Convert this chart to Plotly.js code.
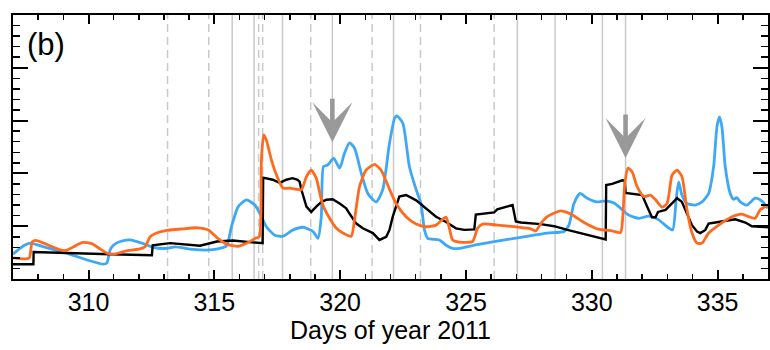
<!DOCTYPE html>
<html>
<head>
<meta charset="utf-8">
<script src="https://cdn.plot.ly/plotly-3.0.1.min.js"></script>
<style>
  html, body { margin: 0; padding: 0; background: #fff; }
  #chart { width: 770px; height: 350px; }
</style>
</head>
<body>
<div id="chart"></div>
<script>
// ---- data (x = day of year 2011, y = arbitrary units) ----
const blackDay = [307.0, 307.81, 307.82, 308.88, 310.86, 312.52, 312.55, 313.24, 313.63, 314.43, 315.10, 315.74, 316.61, 316.92, 316.94, 317.32, 317.60, 317.86, 318.11, 318.31, 318.39, 318.46, 318.66, 318.85, 319.05, 319.25, 319.45, 319.70, 319.98, 320.24, 320.37, 320.64, 320.90, 321.30, 321.56, 321.83, 321.96, 322.09, 322.35, 322.62, 323.02, 323.41, 323.81, 324.21, 324.60, 324.93, 325.33, 325.39, 326.12, 326.24, 326.85, 326.98, 327.18, 327.97, 328.50, 329.03, 329.82, 330.35, 330.55, 330.57, 330.81, 331.21, 331.31, 331.34, 331.74, 332.00, 332.20, 332.33, 332.39, 332.53, 332.63, 332.93, 333.19, 333.39, 333.58, 333.78, 333.98, 334.18, 334.31, 334.51, 334.64, 334.91, 335.30, 335.70, 336.10, 336.36, 337.0];
const blackVal = [0.28, 0.28, 0.51, 0.50, 0.47, 0.45, 0.64, 0.68, 0.66, 0.63, 0.71, 0.73, 0.69, 0.68, 1.92, 1.88, 1.82, 1.88, 1.91, 1.88, 1.84, 1.69, 1.37, 1.27, 1.37, 1.46, 1.50, 1.51, 1.43, 1.34, 1.24, 1.05, 0.96, 0.87, 0.74, 0.80, 0.93, 1.18, 1.56, 1.59, 1.49, 1.34, 1.18, 1.08, 0.96, 0.93, 0.94, 1.22, 1.26, 1.32, 1.40, 1.09, 1.07, 1.04, 1.00, 0.93, 0.83, 0.77, 0.75, 1.78, 1.80, 1.87, 1.86, 1.63, 1.61, 1.59, 1.37, 1.25, 1.17, 1.17, 1.27, 1.31, 1.44, 1.53, 1.46, 1.25, 1.02, 0.90, 0.87, 0.93, 1.05, 1.07, 1.10, 1.13, 1.07, 1.00, 0.98];

const orangeDay = [307.0, 307.49, 307.65, 307.76, 307.89, 308.22, 308.61, 308.88, 309.08, 309.41, 309.74, 310.13, 310.46, 310.73, 310.99, 311.26, 311.59, 312.05, 312.25, 312.45, 312.71, 313.11, 313.75, 314.31, 314.76, 315.09, 315.49, 315.95, 316.34, 316.67, 316.79, 316.87, 316.96, 317.07, 317.27, 317.47, 317.73, 317.99, 318.26, 318.46, 318.66, 318.85, 319.05, 319.18, 319.31, 319.58, 319.85, 320.11, 320.44, 320.57, 320.77, 321.03, 321.36, 321.63, 321.89, 322.22, 322.62, 323.02, 323.41, 323.81, 324.07, 324.21, 324.34, 324.47, 324.73, 325.26, 325.46, 325.66, 326.25, 326.91, 327.57, 327.77, 327.97, 328.23, 328.76, 329.16, 329.69, 330.21, 330.81, 331.14, 331.23, 331.31, 331.44, 331.60, 331.80, 332.07, 332.33, 332.53, 332.79, 332.99, 333.19, 333.39, 333.58, 333.78, 333.98, 334.18, 334.38, 334.64, 335.04, 335.57, 335.96, 336.23, 336.49, 336.69, 337.0];
const orangeVal = [0.40, 0.38, 0.40, 0.70, 0.73, 0.68, 0.60, 0.55, 0.54, 0.61, 0.69, 0.67, 0.57, 0.49, 0.47, 0.50, 0.54, 0.57, 0.61, 0.80, 0.87, 0.92, 0.95, 0.97, 0.93, 0.79, 0.66, 0.62, 0.69, 0.78, 0.80, 2.25, 2.73, 2.63, 2.25, 1.97, 1.72, 1.72, 1.70, 1.69, 1.94, 2.06, 1.91, 1.65, 1.40, 1.15, 0.96, 0.87, 0.81, 1.12, 1.75, 2.06, 2.17, 2.06, 1.78, 1.43, 1.18, 1.04, 0.99, 1.02, 1.13, 1.17, 0.96, 0.74, 0.70, 0.71, 0.96, 1.04, 1.02, 0.99, 0.95, 0.91, 1.05, 1.18, 1.29, 1.23, 1.07, 0.95, 0.91, 0.88, 1.18, 1.81, 2.10, 2.03, 1.75, 1.56, 1.59, 1.50, 1.36, 1.43, 1.97, 2.06, 1.94, 1.31, 0.87, 0.68, 0.68, 0.87, 1.02, 1.18, 1.23, 1.18, 1.15, 1.31, 1.40];

const blueDay = [307.0, 307.42, 307.69, 308.22, 309.14, 309.94, 310.59, 310.73, 310.86, 310.99, 311.26, 311.65, 312.17, 312.56, 313.12, 313.44, 314.15, 314.82, 315.22, 315.49, 315.68, 315.95, 316.28, 316.61, 316.81, 317.07, 317.40, 317.73, 318.13, 318.52, 318.92, 319.12, 319.25, 319.34, 319.51, 319.74, 319.98, 320.17, 320.37, 320.57, 320.84, 321.10, 321.43, 321.69, 321.96, 322.16, 322.25, 322.49, 322.75, 323.02, 323.21, 323.35, 323.48, 323.94, 324.21, 324.47, 324.73, 325.33, 326.12, 327.18, 328.23, 328.89, 329.09, 329.29, 329.53, 329.82, 330.21, 330.55, 330.88, 331.07, 331.47, 331.87, 332.26, 332.66, 332.99, 333.21, 333.35, 333.45, 333.58, 333.78, 334.11, 334.38, 334.64, 334.84, 334.97, 335.07, 335.17, 335.30, 335.50, 335.63, 335.76, 335.90, 336.16, 336.49, 336.75, 337.0];
const blueVal = [0.47, 0.63, 0.68, 0.61, 0.49, 0.36, 0.28, 0.30, 0.55, 0.64, 0.71, 0.74, 0.67, 0.60, 0.58, 0.61, 0.56, 0.55, 0.58, 0.63, 0.99, 1.37, 1.50, 1.40, 1.24, 0.99, 0.83, 0.81, 0.93, 0.98, 0.90, 0.77, 1.18, 2.13, 2.16, 2.29, 2.10, 2.38, 2.58, 2.48, 2.00, 1.62, 1.46, 1.69, 2.57, 3.04, 3.09, 2.95, 2.13, 1.69, 1.43, 0.93, 0.77, 0.74, 0.64, 0.58, 0.58, 0.64, 0.71, 0.79, 0.87, 0.90, 1.02, 1.43, 1.62, 1.53, 1.46, 1.48, 1.44, 1.37, 1.21, 1.15, 1.19, 1.12, 0.99, 0.93, 1.50, 1.84, 1.59, 1.43, 1.40, 1.46, 1.62, 2.13, 2.88, 3.07, 2.88, 2.13, 1.62, 1.51, 1.54, 1.46, 1.40, 1.53, 1.48, 1.34];

// event markers (vertical guide lines) and arrows
const solidEvents  = [315.71, 316.58, 317.71, 319.69, 322.12, 327.04, 328.54, 330.42, 331.34];
const dashedEvents = [313.14, 314.78, 316.76, 316.92, 318.83, 321.27, 323.19, 326.12];
const arrowDays = [319.69, 331.34];
const arrowVals = [2.59, 2.29];
const panelLabel = '(b)';
const xTitle = 'Days of year 2011';

// ---- figure ----
const FONT = 'Liberation Sans, Arial, Helvetica, sans-serif';

const traces = [
  { x: blueDay, y: blueVal, type: 'scatter', mode: 'lines',
    line: { color: '#3ea8f7', width: 2.8, shape: 'spline', smoothing: 0.6 }, hoverinfo: 'skip' },
  { x: blackDay, y: blackVal, type: 'scatter', mode: 'lines',
    line: { color: '#000000', width: 2.4, shape: 'linear' }, hoverinfo: 'skip' },
  { x: orangeDay, y: orangeVal, type: 'scatter', mode: 'lines',
    line: { color: '#ff6a1f', width: 2.8, shape: 'spline', smoothing: 0.6 }, hoverinfo: 'skip' }
];

const shapes = [];
solidEvents.forEach(d => shapes.push({ type: 'line', xref: 'x', yref: 'paper', x0: d, x1: d, y0: 0, y1: 1,
  layer: 'below', line: { color: '#c9c9c9', width: 1.5 } }));
dashedEvents.forEach(d => shapes.push({ type: 'line', xref: 'x', yref: 'paper', x0: d, x1: d, y0: 0, y1: 1,
  layer: 'below', line: { color: '#c9c9c9', width: 1.5, dash: '8px,5px' } }));

const annotations = [
  { xref: 'paper', yref: 'paper', x: 0.016, y: 0.89, xanchor: 'left', yanchor: 'middle',
    text: panelLabel, showarrow: false, font: { family: FONT, size: 31, color: '#000' } }
];
arrowDays.forEach((d, i) => annotations.push({
  x: d, y: arrowVals[i], xref: 'x', yref: 'y', text: '', showarrow: true,
  ax: 0, ay: -45, axref: 'pixel', ayref: 'pixel',
  arrowhead: 3, arrowsize: 1.45, arrowwidth: 4.6, arrowcolor: '#999999', standoff: 0
}));

const layout = {
  width: 770, height: 350,
  margin: { l: 13, r: 2, t: 15, b: 71, pad: 0 },
  paper_bgcolor: '#ffffff', plot_bgcolor: '#ffffff',
  showlegend: false,
  font: { family: FONT, color: '#000' },
  xaxis: {
    range: [307, 337], tickmode: 'linear', tick0: 310, dtick: 5,
    ticks: 'inside', ticklen: 9, tickwidth: 2, tickcolor: '#000',
    minor: { tickmode: 'linear', tick0: 310, dtick: 1, ticks: 'inside', ticklen: 5, tickwidth: 1.5, tickcolor: '#000' },
    showline: true, linewidth: 2, linecolor: '#000', mirror: 'ticks',
    showgrid: false, zeroline: false,
    tickfont: { family: FONT, size: 25, color: '#000' },
    title: { text: xTitle, font: { family: FONT, size: 25, color: '#000' }, standoff: 4 }
  },
  yaxis: {
    range: [0, 5], tickmode: 'linear', tick0: 0, dtick: 1,
    ticks: 'inside', ticklen: 15, tickwidth: 2, tickcolor: '#000',
    minor: { tickmode: 'linear', tick0: 0, dtick: 0.2, ticks: 'inside', ticklen: 7, tickwidth: 1.5, tickcolor: '#000' },
    showline: true, linewidth: 2, linecolor: '#000', mirror: 'ticks',
    showgrid: false, zeroline: false, showticklabels: false
  },
  shapes: shapes,
  annotations: annotations
};

Plotly.newPlot('chart', traces, layout, { staticPlot: true, displayModeBar: false });
</script>
</body>
</html>
